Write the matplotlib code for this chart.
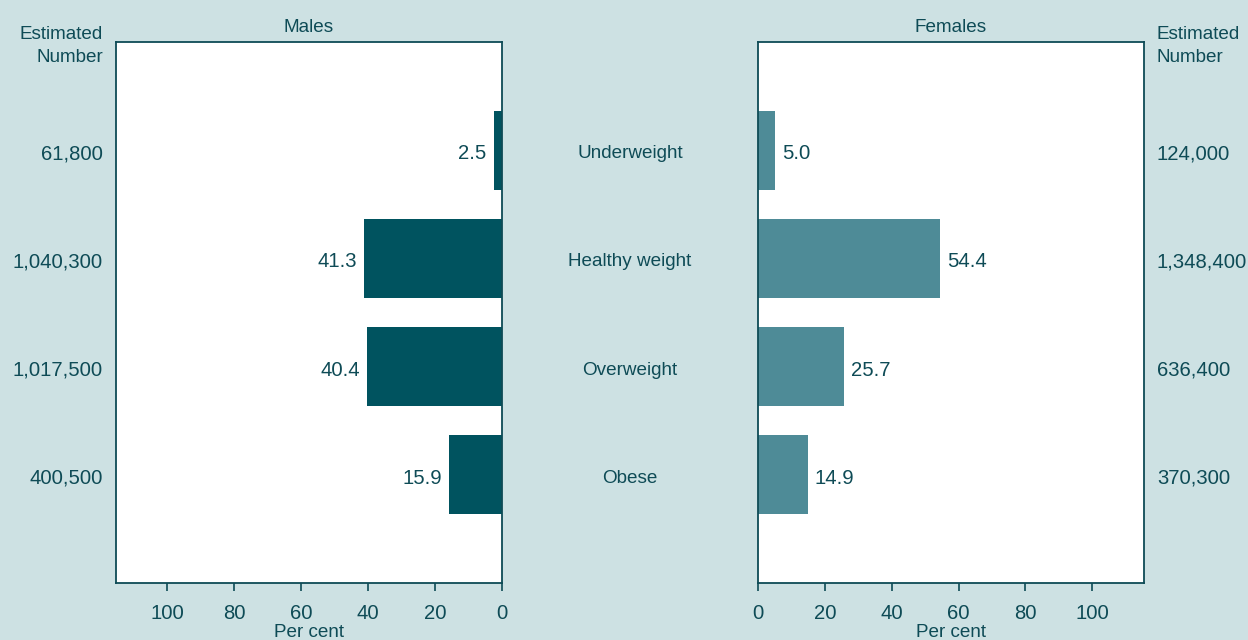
import numpy as np
import matplotlib.pyplot as plt
import matplotlib.transforms as mtransforms

plt.rcParams['font.family'] = ['Liberation Sans', 'DejaVu Sans']

categories = ['Underweight', 'Healthy weight', 'Overweight', 'Obese']
males_pct = [2.5, 41.3, 40.4, 15.9]
females_pct = [5.0, 54.4, 25.7, 14.9]
males_num = ['61,800', '1,040,300', '1,017,500', '400,500']
females_num = ['124,000', '1,348,400', '636,400', '370,300']
ticks = [0, 20, 40, 60, 80, 100]

bg = '#cde1e3'
txt = '#0e4b56'
dark = '#00535f'
light = '#4e8b97'
fs = 13.6      # words
fs_num = 14.6  # figures

fig = plt.figure(figsize=(12.48, 6.4), dpi=100, facecolor=bg)
W, H = 1248, 640
ax1 = fig.add_axes([116/W, 57/H, 386/W, 541/H])
ax2 = fig.add_axes([758/W, 57/H, 386/W, 541/H])

y = np.arange(len(categories))

# labels sit a few pixels below the bar centre
def shifted(base, dx=0):
    return base + mtransforms.ScaledTranslation(dx/100, -3.5/100, fig.dpi_scale_trans)

def style(ax):
    for s in ax.spines.values():
        s.set_color(txt)
        s.set_linewidth(1.3)
    ax.set_ylim(4.0, -1.0)
    ax.set_yticks([])
    ax.set_xticks(ticks)
    ax.tick_params(axis='x', colors=txt, labelcolor=txt, labelsize=fs_num,
                   length=6, width=1.2, pad=9)
    ax.set_xlabel('Per cent', color=txt, fontsize=fs, labelpad=0.5)

ax1.barh(y, males_pct, height=0.73, color=dark)
ax1.set_xlim(115.2, 0)
style(ax1)
ax1.set_title('Males', color=txt, fontsize=fs, pad=7)
for yi, v in zip(y, males_pct):
    ax1.text(v, yi, f'{v:.1f}', ha='right', va='center', color=txt, fontsize=fs_num,
             transform=shifted(ax1.transData, -7))
left_num = mtransforms.blended_transform_factory(ax1.transAxes, ax1.transData)
for yi, n in zip(y, males_num):
    ax1.text(0, yi, n, ha='right', va='center', color=txt, fontsize=fs_num,
             transform=shifted(left_num, -13))

ax2.barh(y, females_pct, height=0.73, color=light)
ax2.set_xlim(0, 115.5)
style(ax2)
ax2.set_title('Females', color=txt, fontsize=fs, pad=7)
for yi, v in zip(y, females_pct):
    ax2.text(v, yi, f'{v:.1f}', ha='left', va='center', color=txt, fontsize=fs_num,
             transform=shifted(ax2.transData, 7))
right_num = mtransforms.blended_transform_factory(ax2.transAxes, ax2.transData)
for yi, n in zip(y, females_num):
    ax2.text(1, yi, n, ha='left', va='center', color=txt, fontsize=fs_num,
             transform=shifted(right_num, 13))

# category names sit in the gap between the two panels
trans = mtransforms.blended_transform_factory(fig.transFigure, ax1.transData)
for yi, c in zip(y, categories):
    fig.text(630/W, yi, c, transform=shifted(trans), ha='center', va='center',
             color=txt, fontsize=fs)

fig.text(103/W, 1 - 46/H, 'Estimated\nNumber', ha='right', va='center',
         color=txt, fontsize=fs, linespacing=1.45)
fig.text(1157/W, 1 - 46/H, 'Estimated\nNumber', ha='left', va='center',
         color=txt, fontsize=fs, linespacing=1.45)

fig.savefig('out.png', dpi=100, facecolor=bg)
